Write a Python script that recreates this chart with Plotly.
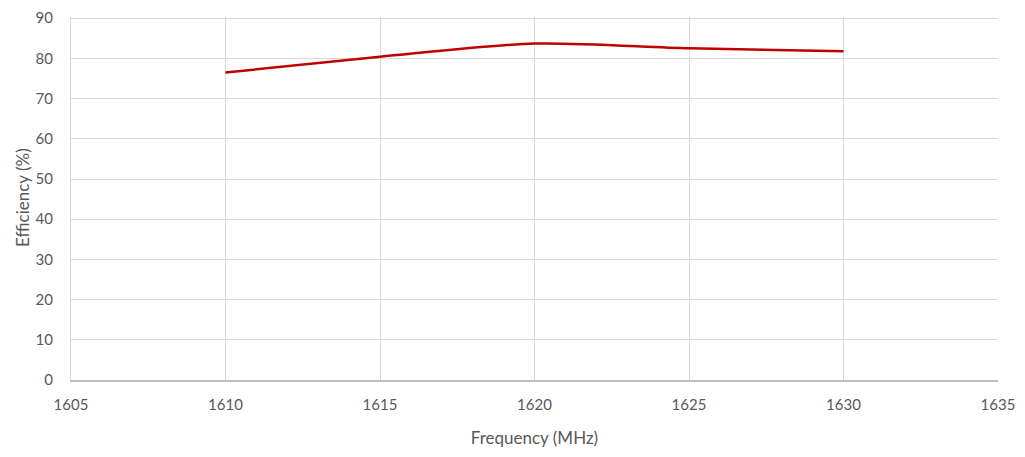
import plotly.graph_objects as go

freq = [1610, 1615, 1620, 1625, 1630]
efficiency = [76.5, 80.4, 83.7, 82.5, 81.8]
x_ticks = [1605, 1610, 1615, 1620, 1625, 1630, 1635]
y_ticks = [0, 10, 20, 30, 40, 50, 60, 70, 80, 90]

font_family = "Lato, Open Sans, sans-serif"
gray = "#595959"

# page body has an 8px margin; compensate so the plot lands where the reference has it
W, H = 1017, 449
L, T = 63, 9
R = W - (998 - 8)
B = H - (380 - 8)

fig = go.Figure()
fig.add_trace(go.Scatter(
    x=freq, y=efficiency, mode="lines",
    line=dict(color="#c00000", width=2.5, shape="spline", smoothing=0.8),
    showlegend=False,
))

fig.update_layout(
    width=W, height=H,
    margin=dict(l=L, r=R, t=T, b=B, autoexpand=False),
    paper_bgcolor="white", plot_bgcolor="white",
    font=dict(family=font_family, color=gray, size=15),
    xaxis=dict(
        range=[1605, 1635], tickvals=x_ticks, ticktext=[str(v) for v in x_ticks],
        showgrid=True, gridcolor="#d9d9d9", gridwidth=1,
        zeroline=False, showline=True, linecolor="#bfbfbf", linewidth=1.5,
        ticks="", ticklabelstandoff=10, ticklabeloverflow="allow", automargin=False,
        title=dict(text="Frequency (MHz)", font=dict(size=17, color=gray), standoff=20),
        tickfont=dict(size=15, color=gray),
    ),
    yaxis=dict(
        range=[0, 90.3], tickvals=y_ticks,
        showgrid=True, gridcolor="#d9d9d9", gridwidth=1,
        zeroline=False, showline=True, linecolor="#d9d9d9", linewidth=1,
        ticks="", ticklabelstandoff=14, ticklabeloverflow="allow", automargin=False,
        tickfont=dict(size=15, color=gray),
    ),
)
plot_w = W - L - R
plot_h = H - T - B
fig.add_annotation(
    text="Efficiency (%)", textangle=-90,
    x=((22 - 8) - L) / plot_w, y=((380 - 198)) / plot_h,
    xref="paper", yref="paper", xanchor="center", yanchor="middle",
    showarrow=False, font=dict(size=17, color=gray),
)

fig.write_html("out.html")
